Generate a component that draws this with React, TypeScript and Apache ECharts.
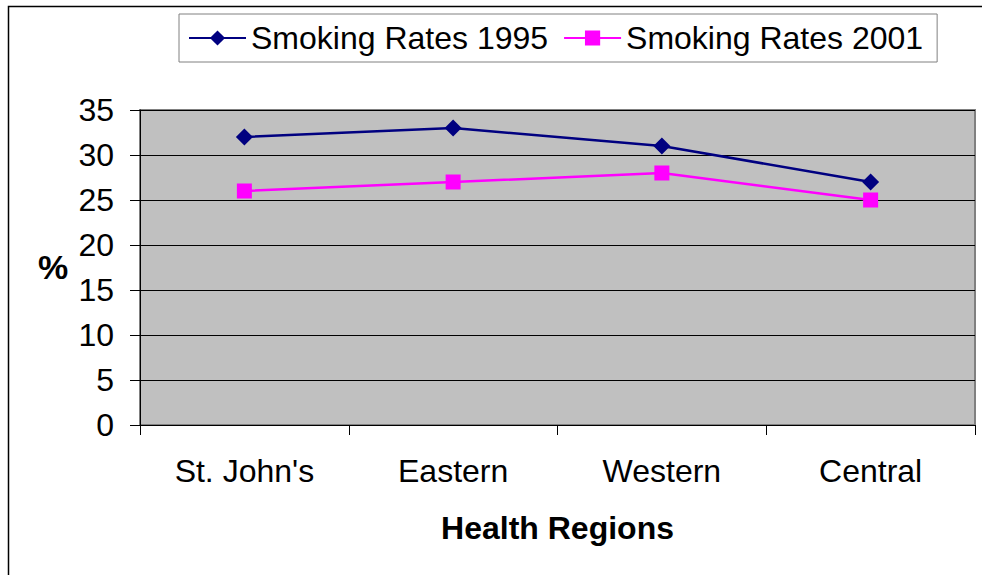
import React, { useEffect, useRef } from "react";
import * as echarts from "echarts";

const regions = ["St. John's", "Eastern", "Western", "Central"];
const rates1995 = [32, 33, 31, 27];
const rates2001 = [26, 27, 28, 25];
const seriesNames = ["Smoking Rates 1995", "Smoking Rates 2001"];

const FONT = "'Liberation Sans', Arial, sans-serif";

export default function App() {
  const ref = useRef<HTMLDivElement>(null);
  useEffect(() => {
    if (!ref.current) return;
    const chart = echarts.init(ref.current, null, { renderer: "svg" });
    chart.setOption({
      animation: false,
      backgroundColor: "#ffffff",
      textStyle: { fontFamily: FONT },
      grid: {
        left: 140,
        top: 110,
        right: 7,
        bottom: 150,
        show: true,
        backgroundColor: "#C0C0C0",
        borderColor: "#808080",
        borderWidth: 2,
      },
      legend: {
        left: 179,
        top: 14,
        padding: [8, 14, 8, 9],
        itemGap: 15,
        itemWidth: 57,
        itemHeight: 19,
        borderColor: "#808080",
        borderWidth: 1,
        textStyle: { fontSize: 32, color: "#000", fontFamily: FONT },
        data: seriesNames,
      },
      xAxis: {
        type: "category",
        data: regions,
        boundaryGap: true,
        axisLine: { show: true, lineStyle: { color: "#000", width: 1 } },
        axisTick: { show: true, length: 10, lineStyle: { color: "#000" } },
        axisLabel: { fontSize: 32, color: "#000", margin: 30, fontFamily: FONT },
        name: "Health Regions",
        nameLocation: "middle",
        nameGap: 87,
        nameTextStyle: { fontSize: 32, fontWeight: "bold", color: "#000", fontFamily: FONT },
      },
      yAxis: {
        type: "value",
        min: 0,
        max: 35,
        interval: 5,
        axisLine: { show: true, lineStyle: { color: "#000", width: 1 } },
        axisTick: { show: true, length: 10, lineStyle: { color: "#000" } },
        axisLabel: { fontSize: 32, color: "#000", margin: 26, fontFamily: FONT },
        splitLine: { show: true, lineStyle: { color: "#000", width: 1 } },
      },
      graphic: [
        {
          type: "rect",
          shape: { x: 8.5, y: 6.5, width: 1000, height: 620 },
          style: { fill: "none", stroke: "#000", lineWidth: 1.5 },
          silent: true,
        },
        {
          type: "text",
          left: 38,
          top: 250,
          style: { text: "%", fontSize: 34, fontWeight: "bold", fill: "#000", fontFamily: FONT },
        },
      ],
      series: [
        {
          name: seriesNames[0],
          type: "line",
          data: rates1995,
          symbol: "diamond",
          symbolSize: 17,
          lineStyle: { color: "#000080", width: 2.5 },
          itemStyle: { color: "#000080" },
        },
        {
          name: seriesNames[1],
          type: "line",
          data: rates2001,
          symbol: "rect",
          symbolSize: 15,
          lineStyle: { color: "#FF00FF", width: 2.5 },
          itemStyle: { color: "#FF00FF" },
        },
      ],
    });
    return () => chart.dispose();
  }, []);
  return (
    <div
      ref={ref}
      style={{ position: "fixed", left: 0, top: 0, width: 982, height: 575 }}
    />
  );
}
